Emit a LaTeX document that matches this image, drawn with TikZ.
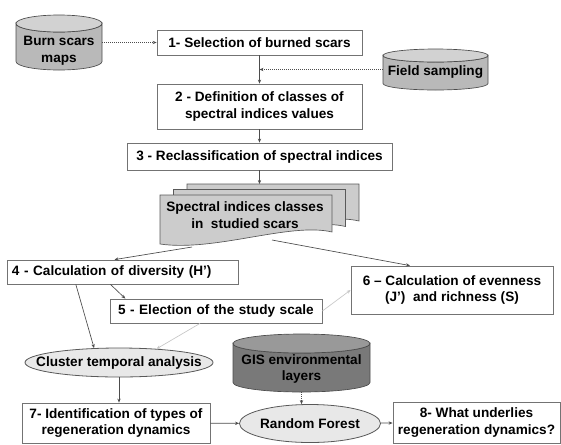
\documentclass[tikz,border=0pt]{standalone}
\usepackage{fontspec}
\setmainfont{Liberation Sans}
\usetikzlibrary{shapes.geometric,arrows.meta}

\tikzset{
  labelfont/.style={font=\bfseries\fontsize{10.2}{12.6}\selectfont},
  stepbox/.style={draw=gray!90!black, fill=white, line width=0.6pt, align=center,
    labelfont, inner sep=1pt},
  leftbox/.style={stepbox, align=left, inner ysep=1pt},
  dblabel/.style={align=center, labelfont, inner sep=0pt},
  dbline/.style={draw=gray!60!black, line width=0.5pt},
  oval/.style={ellipse, draw=gray!70!black, fill=gray!18, line width=0.6pt,
    labelfont, inner sep=0pt},
  sheet/.style={draw=gray!70!black, fill=gray!40, line width=0.5pt},
  link/.style={->, draw=black!70, line width=0.5pt},
  faint/.style={->, draw=gray!45, line width=0.5pt},
  dotlink/.style={->, densely dotted, draw=black!70, line width=0.5pt},
}

% cylinder: centre x, top y, bottom y, x radius, y radius, body colour, top colour
\newcommand\drawdb[7]{%
  \draw[dbline, fill=#6] (#1-#4,#2) -- (#1-#4,#3) arc (180:0:#4 and #5)
    -- (#1+#4,#2) arc (0:180:#4 and #5) -- cycle;
  \draw[dbline, fill=#7] (#1,#2) ellipse (#4 and #5);
}

\begin{document}
\begin{tikzpicture}[x=0.75pt, y=-0.75pt, >={Stealth[length=3pt,width=2.5pt]}]
  \useasboundingbox (0,0) rectangle (561,444);

  % data sources
  \drawdb{59}{23.5}{61.5}{43}{8.5}{gray!55}{gray!35}
  \drawdb{435.5}{55.5}{83.5}{52.5}{6.5}{gray!55}{gray!35}
  \drawdb{301.5}{343.5}{382.5}{68.5}{9.5}{gray!95!black}{gray!80}
  \node[dblabel, minimum width=64.5pt, minimum height=28.5pt] (burn) at (59,51) {Burn scars\\maps};
  \node[dblabel, minimum width=78.75pt, minimum height=27pt] (field) at (435.5,72) {Field sampling};
  \node[dblabel, minimum width=102.75pt, minimum height=34.5pt] (gis) at (301.5,369) {GIS environmental\\layers};

  % steps
  \node[stepbox, minimum width=153.75pt, minimum height=18.75pt] (sel) at (259.5,42.5) {1- Selection of burned scars};
  \node[stepbox, minimum width=153.75pt, minimum height=33.75pt] (defn) at (259.5,106.5) {2 - Definition of classes of\\spectral indices values};
  \node[stepbox, minimum width=198.75pt, minimum height=20.25pt] (recl) at (259.5,156.5) {3 - Reclassification of spectral indices};

  % stacked sheets
  \foreach \dx/\dy in {27/-11, 13.5/-5.5, 0/0}
    \draw[sheet] (160+\dx,195+\dy) -- (332+\dx,195+\dy) -- (332+\dx,232+\dy)
      .. controls (290+\dx,222+\dy) and (215+\dx,252+\dy) .. (160+\dx,244+\dy) -- cycle;
  \node[align=center, labelfont, inner sep=0pt] (spec) at (245,215) {Spectral indices classes\\in\ \ studied scars};
  \coordinate (specTop) at (259.5,184);
  \coordinate (specL) at (192,247);
  \coordinate (specR) at (272,240);

  \node[leftbox, inner xsep=3.75pt, text width=165.75pt, minimum height=18pt] (diver) at (122.5,272) {4 - Calculation of diversity (H’)};
  \node[leftbox, inner xsep=6pt, text width=147pt, minimum height=18pt] (elect) at (216,311) {5 - Election of the study scale};
  \node[stepbox, minimum width=151.5pt, minimum height=36pt] (even) at (452,290) {6 – Calculation of evenness\\(J’)\ \ and richness (S)};

  \node[oval, inner xsep=-15pt, minimum width=141pt, minimum height=21.75pt] (cluster) at (119,362.5) {Cluster temporal analysis};
  \node[stepbox, minimum width=141pt, minimum height=30pt] (ident) at (116,423) {7- Identification of types of\\regeneration dynamics};
  \node[oval, minimum width=97.5pt, minimum height=28.5pt] (rf) at (310,423.5) {Random Forest};
  \node[stepbox, minimum width=125.25pt, minimum height=30.75pt] (under) at (476.5,422.5) {8- What underlies\\regeneration dynamics?};

  % connectors
  \coordinate (join) at (259.5,69.5);
  \draw[dotlink] (burn.east |- sel) -- (sel);
  \draw[link] (sel) -- (defn);
  \draw[dotlink] (field.west |- join) -- (join);
  \draw[link] (defn) -- (recl);
  \draw[link] (recl.south -| specTop) -- (specTop);
  \draw[link] (specL) -- ([xshift=-6pt]diver.north);
  \draw[link] (specR) -- ([xshift=-31.5pt]even.north);
  \draw[link] ([xshift=-9pt]diver.south) -- ([xshift=-68pt]elect.north);
  \draw[faint] (elect.east) -- (even.west);
  \draw[link] ([xshift=-35pt]diver.south) -- (cluster.150);
  \draw[faint] ([xshift=-12pt]elect.south) -- (cluster.20);
  \draw[link] (cluster.south) -- (cluster.south |- ident.north);
  \draw[dotlink] (gis.south) -- (gis.south |- rf.north);
  \draw[link] (ident) -- (rf);
  \draw[link] (rf) -- (under);
\end{tikzpicture}
\end{document}
